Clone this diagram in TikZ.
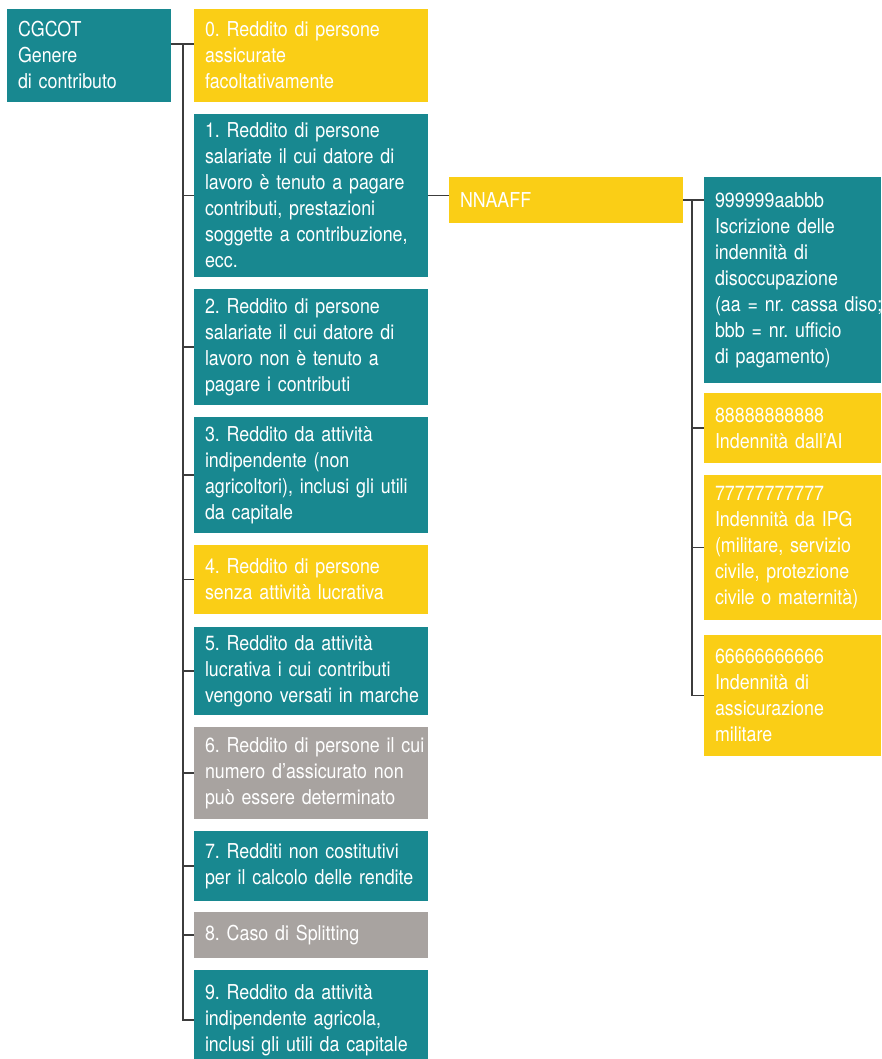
\documentclass[tikz,border=0pt]{standalone}
\usepackage{fontspec}
\setmainfont{TeX Gyre Heros}[FakeStretch=0.87]
\usepackage{tikz}
\usetikzlibrary{positioning}
\frenchspacing

\definecolor{petrol}{RGB}{24,136,144}
\definecolor{giallo}{RGB}{250,206,22}
\definecolor{grigio}{RGB}{168,163,160}
\definecolor{filo}{RGB}{60,60,60}

\tikzset{
  cell/.style={rectangle, anchor=north west, text=white, align=left,
    inner xsep=11pt, inner ysep=4pt, outer sep=0pt,
    font=\fontsize{20.5}{26}\selectfont},
  leftcell/.style={cell, text width=212pt},
  rightcell/.style={cell, text width=155pt},
  link/.style={draw=filo, line width=1.3pt}
}

\begin{document}
\begin{tikzpicture}[x=1pt, y=-1pt]
\useasboundingbox (0,0) rectangle (881,1059);
\clip (0,0) rectangle (881,1059);

\node[cell, text width=142pt, fill=petrol, minimum height=93pt] (cgcot) at (7,9) {CGCOT\\Genere\\di contributo};

% column of contribution types
\node[leftcell, fill=giallo, minimum height=93pt] (b0) at (194,9) {0. Reddito di persone\\assicurate\\facoltativamente};
\node[leftcell, fill=petrol, minimum height=163pt, below right=12pt and 0pt of b0.south west] (b1) {1. Reddito di persone\\salariate il cui datore di\\lavoro è tenuto a pagare\\contributi, prestazioni\\soggette a contribuzione,\\ecc.};
\node[leftcell, fill=petrol, minimum height=116pt, below right=12pt and 0pt of b1.south west] (b2) {2. Reddito di persone\\salariate il cui datore di\\lavoro non è tenuto a\\pagare i contributi};
\node[leftcell, fill=petrol, minimum height=116pt, below right=12pt and 0pt of b2.south west] (b3) {3. Reddito da attività\\indipendente (non\\agricoltori), inclusi gli utili\\da capitale};
\node[leftcell, fill=giallo, minimum height=69pt, below right=12pt and 0pt of b3.south west] (b4) {4. Reddito di persone\\senza attività lucrativa};
\node[leftcell, fill=petrol, minimum height=88pt, below right=13pt and 0pt of b4.south west] (b5) {5. Reddito da attività\\lucrativa i cui contributi\\\mbox{vengono versati in marche}};
\node[leftcell, fill=grigio, minimum height=92pt, below right=12pt and 0pt of b5.south west] (b6) {\mbox{6. Reddito di persone il cui}\\numero d’assicurato non\\può essere determinato};
\node[leftcell, fill=petrol, minimum height=70pt, below right=12pt and 0pt of b6.south west] (b7) {7. Redditi non costitutivi\\per il calcolo delle rendite};
\node[leftcell, fill=grigio, minimum height=46pt, below right=11pt and 0pt of b7.south west] (b8) {8. Caso di Splitting};
\node[leftcell, fill=petrol, minimum height=100pt, below right=12pt and 0pt of b8.south west] (b9) {9. Reddito da attività\\indipendente agricola,\\inclusi gli utili da capitale};

\node[leftcell, fill=giallo, minimum height=46pt] (nn) at (449,177) {NNAAFF};

% column of benefit codes
\node[rightcell, fill=petrol, minimum height=206pt] (r0) at (704,177) {999999aabbb\\Iscrizione delle\\indennità di\\disoccupazione\\\mbox{(aa = nr. cassa diso;}\\bbb = nr. ufficio\\di pagamento)};
\node[rightcell, fill=giallo, minimum height=70pt, below right=10pt and 0pt of r0.south west] (r1) {88888888888\\Indennità dall’AI};
\node[rightcell, fill=giallo, minimum height=145pt, below right=12pt and 0pt of r1.south west] (r2) {77777777777\\Indennità da IPG\\(militare, servizio\\civile, protezione\\civile o maternità)};
\node[rightcell, fill=giallo, minimum height=121pt, below right=15pt and 0pt of r2.south west] (r3) {66666666666\\Indennità di\\assicurazione\\militare};

\coordinate (out) at (171,44);
\coordinate (ltrunk) at (183,44);
\coordinate (rtrunk) at (692,200);

\draw[link] (out) -- (out -| b0.west);
\draw[link] (ltrunk) |- (b9.west);
\foreach \n in {b1,b2,b3,b4,b5,b6,b7,b8}
  \draw[link] (\n.west -| ltrunk) -- (\n.west);

\draw[link] (b1.east) -- (b1.east -| nn.west);
\draw[link] (nn.east) -- (nn.east -| r0.west);
\draw[link] (rtrunk) |- (r3.west);
\foreach \n in {r1,r2}
  \draw[link] (\n.west -| rtrunk) -- (\n.west);
\end{tikzpicture}
\end{document}
